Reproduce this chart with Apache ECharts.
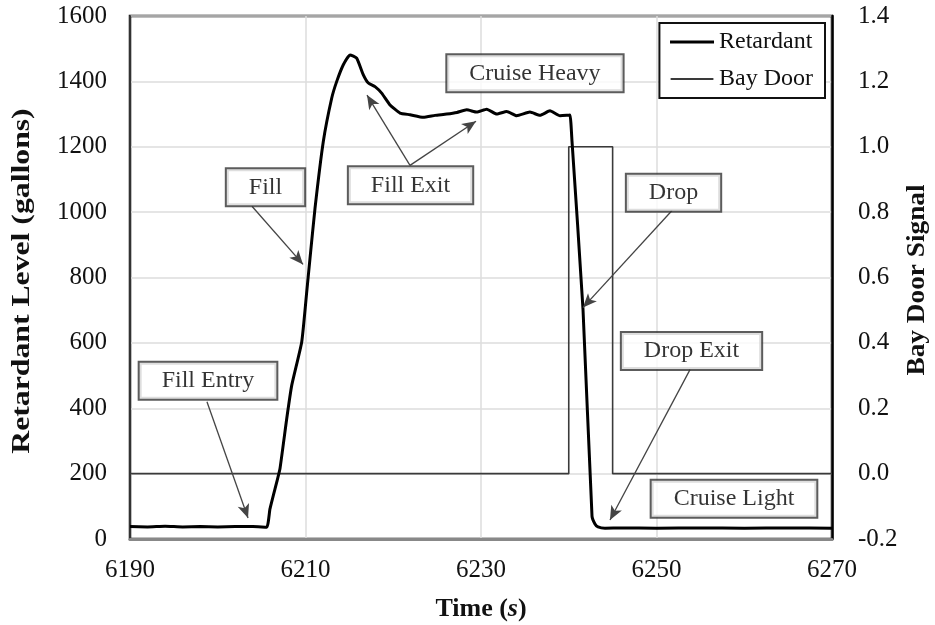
<!DOCTYPE html>
<html>
<head>
<meta charset="utf-8">
<script src="https://cdn.jsdelivr.net/npm/echarts@6/dist/echarts.min.js"></script>
<style>
  html, body { margin: 0; padding: 0; background: #fff; }
  #chart { width: 935px; height: 625px; }
</style>
</head>
<body>
<div id="chart"></div>
<script>
// Retardant tank level over the fill / drop cycle
const retTime = [6190, 6192, 6194, 6196, 6198, 6200, 6202, 6204, 6205.58, 6205.95, 6206.72, 6207.09,
  6207.86, 6208.43, 6209.57, 6210.14, 6210.51, 6211.08, 6212.03, 6212.99, 6213.56, 6214.31, 6215.07,
  6215.83, 6216.59, 6217.16, 6217.92, 6218.68, 6219.63, 6220.77, 6221.91, 6223.42, 6224.76, 6226.09,
  6227.26, 6228.37, 6229.51, 6230.65, 6231.79, 6232.93, 6234.07, 6235.58, 6236.72, 6237.86, 6239.0,
  6239.77, 6240.14, 6240.37, 6241.62, 6242.65, 6242.99, 6243.33, 6244.13, 6246, 6250, 6255, 6260, 6265, 6270];
const retLevel = [38, 37, 39, 37, 38, 37, 38, 38, 36, 92, 174, 215,
  368, 470, 603, 756, 858, 1011, 1216, 1349, 1400, 1451, 1481,
  1471, 1420, 1395, 1384, 1364, 1328, 1303, 1298, 1290, 1296, 1300,
  1305, 1313, 1306, 1315, 1300, 1308, 1295, 1306, 1296, 1310, 1295,
  1296, 1297, 1217, 705, 70, 46, 37, 33, 34, 33, 34, 33, 34, 33];

// Bay door open/closed signal
const doorTime = [6190, 6240, 6240, 6245, 6245, 6270];
const doorSignal = [0, 0, 1, 1, 0, 0];

// Axis ticks
const xTicks = { min: 6190, max: 6270, step: 20 };
const yLeftTicks = { min: 0, max: 1600, step: 200 };
const yRightTicks = { min: -0.2, max: 1.4, step: 0.2 };

// Phase labels: label text and the point (time, gallons) where the label sits
const phaseNames = ['Fill Entry', 'Fill', 'Fill Exit', 'Cruise Heavy', 'Drop', 'Drop Exit', 'Cruise Light'];
const phaseAt = [[6198.89, 484], [6205.44, 1076], [6221.97, 1082], [6236.15, 1425], [6251.94, 1059], [6253.99, 575], [6258.83, 123]];

// Arrows from a label edge to the curve: [from time, from gallons, to time, to gallons]
const phaseArrows = [
  [6198.77, 420, 6203.45, 64],
  [6203.9, 1018, 6209.72, 840],
  [6221.91, 1143, 6217.01, 1358],
  [6221.91, 1143, 6229.43, 1278],
  [6251.77, 1005, 6241.62, 708],
  [6253.82, 518, 6244.7, 58]
];

const FONT = 'Liberation Serif';
const zip = (a, b) => a.map((v, i) => [v, b[i]]);

const chart = echarts.init(document.getElementById('chart'), null, { renderer: 'canvas' });

chart.setOption({
  backgroundColor: '#fff',
  animation: false,
  grid: {
    left: 130, right: 103, top: 16, bottom: 86,
    outerBoundsMode: 'none',
    show: true, borderColor: '#000', borderWidth: 2.5, backgroundColor: 'transparent'
  },
  legend: {
    data: [
      { name: 'Retardant', itemStyle: { color: '#000' } },
      { name: 'Bay Door', itemStyle: { color: '#3a3a3a', borderColor: '#fff', borderWidth: 1.2 } }
    ],
    icon: 'rect',
    orient: 'vertical',
    right: 110, top: 23,
    backgroundColor: '#fff',
    borderColor: '#111', borderWidth: 2,
    padding: [7, 12, 7, 10],
    itemGap: 13,
    itemWidth: 44, itemHeight: 3,
    textStyle: { fontFamily: FONT, fontSize: 24, color: '#111' }
  },
  graphic: [
    {
      type: 'text', x: 22, y: 281, rotation: Math.PI / 2, scaleX: 1.22,
      style: {
        text: 'Retardant Level (gallons)', fontFamily: FONT, fontSize: 26, fontWeight: 'bold',
        fill: '#111', align: 'center', verticalAlign: 'middle'
      }
    },
    {
      type: 'text', x: 917, y: 280, rotation: Math.PI / 2, scaleX: 1.05,
      style: {
        text: 'Bay Door Signal', fontFamily: FONT, fontSize: 26, fontWeight: 'bold',
        fill: '#111', align: 'center', verticalAlign: 'middle'
      }
    }
  ],
  xAxis: {
    type: 'value',
    min: xTicks.min, max: xTicks.max, interval: xTicks.step,
    name: 'Time ({i|s})',
    nameLocation: 'middle', nameGap: 57,
    nameTextStyle: {
      fontFamily: FONT, fontSize: 26, fontWeight: 'bold', color: '#111',
      rich: { i: { fontFamily: FONT, fontSize: 26, fontWeight: 'bold', fontStyle: 'italic', color: '#111' } }
    },
    axisLine: { show: true, lineStyle: { color: '#888', width: 3 } },
    axisTick: { show: false },
    axisLabel: { fontFamily: FONT, fontSize: 25, color: '#111', margin: 19, formatter: v => String(v) },
    splitLine: { show: true, lineStyle: { color: '#dcdcdc', width: 1.5 } }
  },
  yAxis: [
    {
      type: 'value',
      min: yLeftTicks.min, max: yLeftTicks.max, interval: yLeftTicks.step,
      axisLine: { show: true, lineStyle: { color: '#333', width: 2 } },
      axisTick: { show: false },
      axisLabel: { fontFamily: FONT, fontSize: 25, color: '#111', margin: 23, formatter: v => String(v) },
      splitLine: { show: true, lineStyle: { color: '#dcdcdc', width: 1.5 } }
    },
    {
      type: 'value',
      min: yRightTicks.min, max: yRightTicks.max, interval: yRightTicks.step,
      axisLine: { show: true, lineStyle: { color: '#000', width: 2.5 } },
      axisTick: { show: false },
      axisLabel: {
        fontFamily: FONT, fontSize: 25, color: '#111', margin: 26,
        formatter: v => (Math.abs(v) < 1e-9 ? 0 : v).toFixed(1)
      },
      splitLine: { show: false }
    }
  ],
  series: [
    {
      name: 'Bay Door',
      type: 'line',
      yAxisIndex: 1,
      data: zip(doorTime, doorSignal),
      symbol: 'none',
      lineStyle: { color: '#3a3a3a', width: 1.6 },
      itemStyle: { color: '#3a3a3a' },
      z: 2
    },
    {
      name: 'Retardant',
      type: 'line',
      yAxisIndex: 0,
      data: zip(retTime, retLevel),
      symbol: 'none',
      smooth: 0.15,
      lineStyle: { color: '#000', width: 3 },
      itemStyle: { color: '#000' },
      z: 3,
      markLine: {
        silent: true,
        symbol: ['none', 'arrow'],
        symbolSize: [9, 14],
        label: { show: false },
        lineStyle: { color: '#444', width: 1.3, type: 'solid' },
        data: phaseArrows.map(a => [
          { coord: [a[0], a[1]] },
          { coord: [a[2], a[3]] }
        ])
      }
    },
    {
      name: 'phases',
      type: 'scatter',
      yAxisIndex: 0,
      data: phaseAt.map((p, i) => ({ value: p, name: phaseNames[i] })),
      symbolSize: 0,
      silent: true,
      z: 10,
      label: {
        show: true,
        position: 'inside',
        formatter: p => p.name,
        fontFamily: FONT, fontSize: 24, color: '#000',
        backgroundColor: '#fff',
        borderColor: '#333', borderWidth: 2,
        padding: [7, 22, 5, 22]
      }
    }
  ]
});
</script>
</body>
</html>
